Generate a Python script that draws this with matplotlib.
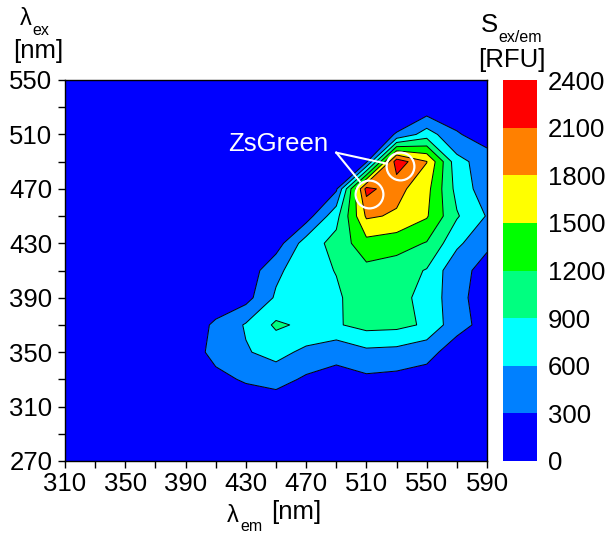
import numpy as np
import matplotlib
matplotlib.use("Agg")
import matplotlib.pyplot as plt

plt.rcParams['font.family'] = ['Liberation Sans', 'DejaVu Sans']

# Emission (x) and excitation (y) wavelengths of the measurement grid [nm]
em_nm = [310, 330, 350, 370, 390, 410, 430, 450, 470, 490, 510, 530, 550, 570, 590]
ex_nm = [550, 530, 510, 490, 470, 450, 430, 410, 390, 370, 350, 330, 310, 290, 270]

# Fluorescence intensity S_ex/em [RFU], one list per excitation row (top to bottom)
s_ex550 = [40, 45, 50, 50, 55, 60, 60, 65, 70, 75, 80, 85, 90, 85, 80]
s_ex530 = [45, 50, 55, 60, 60, 65, 70, 75, 80, 85, 80, 70, 85, 100, 90]
s_ex510 = [50, 55, 60, 65, 70, 75, 80, 85, 90, 95, 100, 320, 750, 330, 150]
s_ex490 = [55, 60, 65, 70, 75, 80, 90, 95, 100, 110, 250, 2280, 1810, 700, 450]
s_ex470 = [60, 65, 70, 75, 80, 90, 100, 110, 120, 250, 2200, 1900, 1600, 800, 430]
s_ex450 = [65, 70, 75, 80, 90, 100, 110, 120, 150, 800, 1845, 1760, 1530, 930, 580]
s_ex430 = [70, 75, 80, 90, 100, 110, 130, 150, 750, 1000, 1400, 1330, 1180, 670, 330]
s_ex410 = [75, 80, 90, 100, 110, 120, 100, 530, 800, 910, 1110, 1040, 880, 360, 240]
s_ex390 = [80, 90, 100, 110, 120, 150, 190, 645, 800, 860, 1050, 1000, 800, 400, 130]
s_ex370 = [85, 95, 110, 120, 150, 340, 630, 950, 840, 870, 1000, 980, 860, 390, 210]
s_ex350 = [80, 90, 100, 120, 150, 380, 575, 700, 530, 380, 530, 505, 387, 170, 100]
s_ex330 = [70, 80, 90, 110, 130, 230, 330, 420, 250, 210, 240, 210, 190, 120, 90]
s_ex310 = [60, 70, 80, 90, 100, 120, 130, 100, 110, 120, 110, 100, 90, 80, 70]
s_ex290 = [50, 60, 70, 80, 90, 100, 110, 100, 100, 90, 90, 80, 75, 70, 60]
s_ex270 = [45, 50, 60, 70, 80, 90, 95, 90, 85, 80, 75, 70, 65, 60, 55]

levels = [0, 300, 600, 900, 1200, 1500, 1800, 2100, 2400]
level_colors = ['#0000FF', '#0080FF', '#00FFFF', '#00FF80',
                '#00FF00', '#FFFF00', '#FF8000', '#FF0000']

# Peaks marked as ZsGreen (emission, excitation)
peak_em = [512, 532]
peak_ex = [466.5, 487]
label_em, label_ex = 418, 497.5
leader_start = (490, 496.6)

Z = np.array([s_ex550, s_ex530, s_ex510, s_ex490, s_ex470, s_ex450, s_ex430,
              s_ex410, s_ex390, s_ex370, s_ex350, s_ex330, s_ex310, s_ex290,
              s_ex270], dtype=float)
X = np.array(em_nm, dtype=float)
Y = np.array(ex_nm, dtype=float)

W, H = 608, 533
fig = plt.figure(figsize=(W / 100, H / 100), dpi=100)
ax = fig.add_axes([65 / W, (H - 461) / H, 422 / W, 381 / H])
cax = fig.add_axes([503 / W, (H - 461) / H, 34 / W, 381 / H])

cf = ax.contourf(X, Y, Z, levels=levels, colors=level_colors, antialiased=True)
ax.contour(X, Y, Z, levels=levels[1:-1], colors='black', linewidths=0.7)

ax.set_xlim(310, 590)
ax.set_ylim(270, 550)
ax.set_xticks(np.arange(310, 591, 40))
ax.set_xticks(np.arange(330, 591, 40), minor=True)
ax.set_yticks(np.arange(270, 551, 40))
ax.set_yticks(np.arange(290, 551, 40), minor=True)
ax.tick_params(which='both', direction='out', length=5, width=1, color='black')
ax.tick_params(axis='x', labelsize=18.5, pad=3)
ax.tick_params(axis='y', labelsize=18.5, pad=4)
for s in ax.spines.values():
    s.set_linewidth(1.0)

cb = fig.colorbar(cf, cax=cax, ticks=levels)
cb.outline.set_visible(False)
cax.tick_params(length=0, pad=8, labelsize=18.5)

# annotation
ax.plot(peak_em, peak_ex, 'o', ms=20, mfc='none', mec='white', mew=1.6)
for pe, px in zip(peak_em, peak_ex):
    pass
ax.plot([leader_start[0], 522.3], [leader_start[1], 488.8], color='white', lw=1.5)
ax.plot([leader_start[0], 505.7], [leader_start[1], 475.3], color='white', lw=1.5)
ax.text(label_em, label_ex, 'ZsGreen', color='white', fontsize=18.5, va='baseline', ha='left')

def ftext(x, y, s, size=18.5, ha='left'):
    fig.text(x / W, 1 - y / H, s, fontsize=size, ha=ha, va='baseline')

# y label
ftext(20, 25, 'λ', size=17)
ftext(32, 35, 'ex', size=11.5)
ftext(38, 58, '[nm]', ha='center')
# x label
ftext(227, 522, 'λ', size=17)
ftext(240, 531, 'em', size=11.5)
ftext(296, 519, '[nm]', ha='center')
# colorbar title
ftext(481, 32, 'S')
ftext(498, 42, 'ex/em', size=11.5)
ftext(512, 67, '[RFU]', ha='center')

fig.savefig('out.png', dpi=100)
